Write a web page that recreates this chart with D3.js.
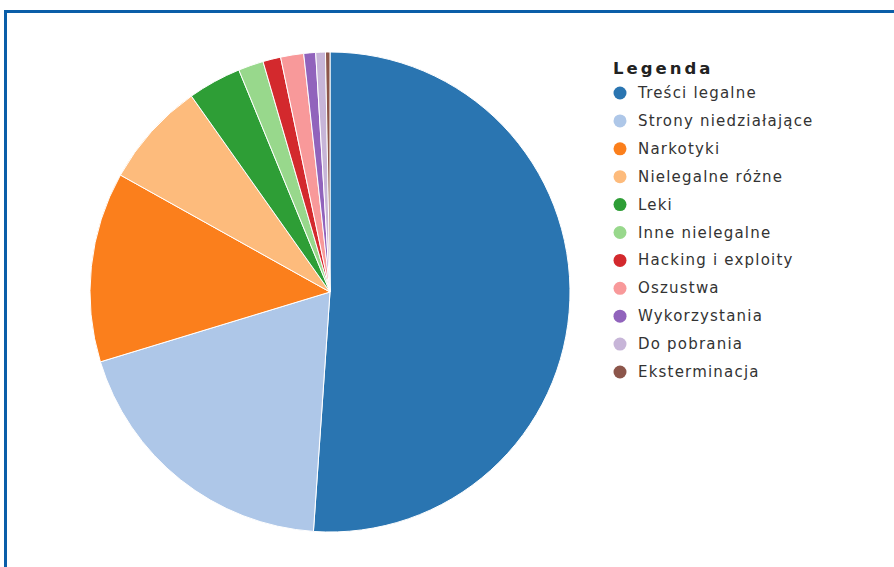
<!DOCTYPE html>
<html>
<head>
<meta charset="utf-8">
<script src="https://cdn.jsdelivr.net/npm/d3@7"></script>
<style>
  body { margin: 0; background: #fff; overflow: hidden; }
  svg { display: block; }
  .legenda-tytul { font-family: "DejaVu Sans", sans-serif; font-weight: bold; font-size: 16.5px; letter-spacing: 3px; fill: #222; }
  .legenda-tekst { font-family: "DejaVu Sans", sans-serif; font-size: 15px; letter-spacing: 1.2px; fill: #333; }
</style>
</head>
<body>
<div id="okvir"></div>
<script>
// kategorije i udjeli (%) procijenjeni sa slike
const kategorije = [
  "Treści legalne",
  "Strony niedziałające",
  "Narkotyki",
  "Nielegalne różne",
  "Leki",
  "Inne nielegalne",
  "Hacking i exploity",
  "Oszustwa",
  "Wykorzystania",
  "Do pobrania",
  "Eksterminacja",
]
const udjeli = [51.1, 19.2, 12.8, 7.1, 3.6, 1.7, 1.2, 1.55, 0.8, 0.65, 0.3]
const boje = [
  "#2a75b1", "#aec7e8", "#fb7f1c", "#fdbb7c", "#2e9e36",
  "#98d88c", "#d3292d", "#f8999a", "#9163bc", "#c7b5d8", "#8c564b",
]

const dataset = kategorije.map((k, i) => ({ kategorija: k, udio: udjeli[i] }))

const dimenzije = { sirina: 894, visina: 567 }
const centar = { x: 330, y: 292 }
const radijus = 240

const okvir = d3.select("#okvir")
  .append("svg")
    .attr("width", dimenzije.sirina)
    .attr("height", dimenzije.visina)

// plavi okvir (desni i donji rub su izvan slike)
okvir.append("rect")
  .attr("x", 5.5)
  .attr("y", 11.5)
  .attr("width", 2000)
  .attr("height", 2000)
  .attr("fill", "none")
  .attr("stroke", "#0a5ea8")
  .attr("stroke-width", 3)

const skalaBoje = d3.scaleOrdinal()
  .domain(kategorije)
  .range(boje)

const pita = d3.pie()
  .sort(null)
  .value(d => d.udio)

const luk = d3.arc()
  .innerRadius(0)
  .outerRadius(radijus)

const granice = okvir.append("g")
  .attr("transform", `translate(${centar.x}, ${centar.y})`)

granice.selectAll(".kriska")
  .data(pita(dataset))
  .enter().append("path")
    .attr("class", "kriska")
    .attr("d", luk)
    .attr("fill", d => skalaBoje(d.data.kategorija))
    .attr("stroke", "#fff")
    .attr("stroke-width", 1)

// legenda
const legenda = okvir.append("g")
  .attr("transform", "translate(613, 0)")

legenda.append("text")
  .attr("class", "legenda-tytul")
  .attr("x", 0)
  .attr("y", 74)
  .text("Legenda")

const skalaY = d3.scalePoint()
  .domain(kategorije)
  .range([93, 372])

const stavke = legenda.selectAll(".stavka")
  .data(kategorije)
  .enter().append("g")
    .attr("class", "stavka")
    .attr("transform", d => `translate(0, ${skalaY(d)})`)

stavke.append("circle")
  .attr("cx", 7)
  .attr("cy", 0)
  .attr("r", 6.5)
  .attr("fill", d => skalaBoje(d))

stavke.append("text")
  .attr("class", "legenda-tekst")
  .attr("x", 25)
  .attr("y", 5)
  .text(d => d)
</script>
</body>
</html>
